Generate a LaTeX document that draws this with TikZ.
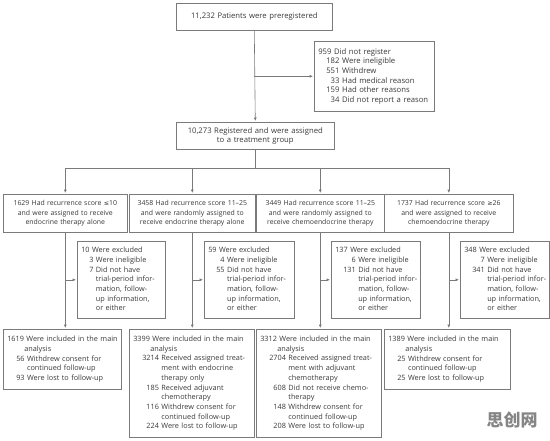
\documentclass[tikz,border=0pt]{standalone}
\usepackage{fontspec}
\setmainfont{Open Sans}
\newfontfamily\symf{DejaVu Sans}
\newfontfamily\cjkf{Noto Sans CJK SC}
\usetikzlibrary{arrows.meta}
\definecolor{linec}{HTML}{7A7A7A}
\definecolor{textc}{HTML}{3A3A3A}
\newcommand{\ftop}{\fontsize{7.7}{9.6}\selectfont}
\newcommand{\frow}{\fontsize{6.9}{9.7}\selectfont}
\newcommand{\fsub}{\fontsize{7.3}{9.7}\selectfont}
\newcommand{\an}{\multicolumn{2}{@{\hspace{17pt}}l@{}}{analysis}}
\tikzset{
  box/.style={draw=linec, line width=0.6pt, inner xsep=4pt, inner ysep=0pt,
    anchor=north west, font=\fsub, text=textc, align=left},
  cbox/.style={box, align=center},
  conn/.style={draw=linec, line width=0.6pt},
  arr/.style={conn, -{Latex[length=3.5pt,width=3pt]}, shorten >=1pt},
}
\begin{document}
\begin{tikzpicture}[x=1pt,y=-1pt]
\useasboundingbox[fill=white] (0,0) rectangle (550,440);

% top
\node[cbox, font=\ftop, minimum width=156pt, minimum height=27pt, text width=148pt] (pre) at (176,3)
  {11,232 Patients were preregistered};
\node[box, font=\ftop, minimum width=120pt, minimum height=70pt, text width=112pt] (ex0) at (314,41)
  {\begin{tabular}{@{\hspace{8pt}}r@{\ }l@{}}
   \multicolumn{2}{@{}l@{}}{959 Did not register}\\
   182 & Were ineligible\\
   551 & Withdrew\\
   33 & Had medical reason\\
   159 & Had other reasons\\
   34 & Did not report a reason
   \end{tabular}};
\node[cbox, font=\ftop, minimum width=156pt, minimum height=27pt, text width=150pt] (reg) at (176,122)
  {10,273 Registered and were assigned\\to a treatment group};

\coordinate (j0) at (pre.south |- ex0.west);
\draw[arr] (pre.south) -- (reg.north);
\draw[arr] (j0) -- (ex0.west);

% row of groups
\node[cbox, font=\frow, minimum width=120pt, minimum height=38pt, text width=116pt] (g1) at (3,194)
  {1629 Had recurrence score {\symf\fontsize{6.3}{9.7}\selectfont ≤}10\\and were assigned to receive\\endocrine therapy alone};
\node[cbox, font=\frow, minimum width=122pt, minimum height=38pt, text width=118pt] (g2) at (129,194)
  {3458 Had recurrence score 11–25\\and were randomly assigned to\\receive endocrine therapy alone};
\node[cbox, font=\frow, minimum width=124pt, minimum height=38pt, text width=120pt] (g3) at (256,194)
  {3449 Had recurrence score 11–25\\and were randomly assigned to\\receive chemoendocrine therapy};
\node[cbox, font=\frow, minimum width=125pt, minimum height=38pt, text width=121pt] (g4) at (384,194)
  {1737 Had recurrence score {\symf\fontsize{6.3}{9.7}\selectfont ≥}26\\and were assigned to receive\\chemoendocrine therapy};

\coordinate (sp) at (reg.south |- 0,168);
\coordinate (s1) at (g1.north |- sp);
\coordinate (s4) at (g4.north |- sp);
\draw[conn] (reg.south) -- (sp);
\draw[conn] (s1) -- (s4);
\foreach \g in {g1,g2,g3,g4}{
  \draw[arr] (\g.north |- sp) -- (\g.north);
}

% exclusion boxes
\node[box, minimum width=86pt, minimum height=77pt, text width=80pt] (e1) at (77,241)
  {\begin{tabular}{@{\hspace{8pt}}r@{\ }l@{}}
   \multicolumn{2}{@{}l@{}}{10 Were excluded}\\
   3 & Were ineligible\\
   7 & Did not have\\
   & trial-period infor-\\
   & mation, follow-\\
   & up information,\\
   & or either
   \end{tabular}};
\node[box, minimum width=88pt, minimum height=77pt, text width=82pt] (e2) at (204,241)
  {\begin{tabular}{@{\hspace{8pt}}r@{\ }l@{}}
   \multicolumn{2}{@{}l@{}}{59 Were excluded}\\
   4 & Were ineligible\\
   55 & Did not have\\
   & trial-period infor-\\
   & mation, follow-\\
   & up information,\\
   & or either
   \end{tabular}};
\node[box, minimum width=87pt, minimum height=77pt, text width=81pt] (e3) at (331,241)
  {\begin{tabular}{@{\hspace{8pt}}r@{\ }l@{}}
   \multicolumn{2}{@{}l@{}}{137 Were excluded}\\
   6 & Were ineligible\\
   131 & Did not have\\
   & trial-period infor-\\
   & mation, follow-\\
   & up information,\\
   & or either
   \end{tabular}};
\node[box, minimum width=87pt, minimum height=77pt, text width=81pt] (e4) at (460,241)
  {\begin{tabular}{@{\hspace{8pt}}r@{\ }l@{}}
   \multicolumn{2}{@{}l@{}}{348 Were excluded}\\
   7 & Were ineligible\\
   341 & Did not have\\
   & trial-period infor-\\
   & mation, follow-\\
   & up information,\\
   & or either
   \end{tabular}};

% bottom boxes
\node[box, minimum width=116pt, minimum height=60pt, text width=110pt] (b1) at (3,329)
  {\begin{tabular}{@{\hspace{9pt}}r@{\ }l@{}}
   \multicolumn{2}{@{}l@{}}{1619 Were included in the main}\\
   \an\\
   56 & Withdrew consent for\\
   & continued follow-up\\
   93 & Were lost to follow-up
   \end{tabular}};
\node[box, minimum width=123pt, minimum height=108pt, text width=117pt] (b2) at (129,329)
  {\begin{tabular}{@{\hspace{9pt}}r@{\ }l@{}}
   \multicolumn{2}{@{}l@{}}{3399 Were included in the main}\\
   \an\\
   3214 & Received assigned treat-\\
   & ment with endocrine\\
   & therapy only\\
   185 & Received adjuvant\\
   & chemotherapy\\
   116 & Withdrew consent for\\
   & continued follow-up\\
   224 & Were lost to follow-up
   \end{tabular}};
\node[box, minimum width=123pt, minimum height=108pt, text width=117pt] (b3) at (256,329)
  {\begin{tabular}{@{\hspace{9pt}}r@{\ }l@{}}
   \multicolumn{2}{@{}l@{}}{3312 Were included in the main}\\
   \an\\
   2704 & Received assigned treat-\\
   & ment with adjuvant\\
   & chemotherapy\\
   608 & Did not receive chemo-\\
   & therapy\\
   148 & Withdrew consent for\\
   & continued follow-up\\
   208 & Were lost to follow-up
   \end{tabular}};
\node[box, minimum width=124pt, minimum height=60pt, text width=118pt] (b4) at (384,329)
  {\begin{tabular}{@{\hspace{9pt}}r@{\ }l@{}}
   \multicolumn{2}{@{}l@{}}{1389 Were included in the main}\\
   \an\\
   25 & Withdrew consent for\\
   & continued follow-up\\
   25 & Were lost to follow-up
   \end{tabular}};

\foreach \i in {1,2,3,4}{
  \draw[arr] (g\i.south) -- (g\i.south |- b\i.north);
  \draw[arr] (g\i.south |- e\i.west) -- (e\i.west);
}

% watermark
\node[font=\cjkf\bfseries\fontsize{17}{17}\selectfont, text=black!48, inner sep=0pt] (wm) at (512,420) {思创网};
\end{tikzpicture}
\end{document}
